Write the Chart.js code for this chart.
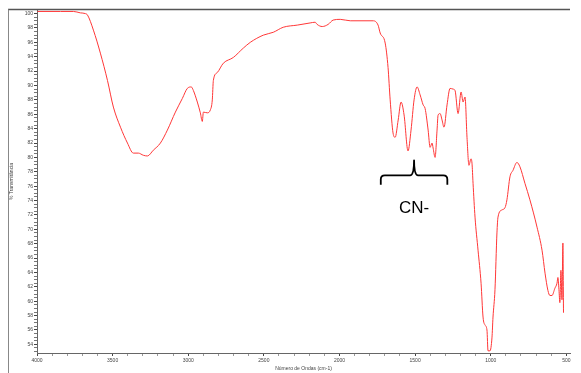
<!DOCTYPE html>
<html>
<head>
<meta charset="utf-8">
<script src="https://cdn.jsdelivr.net/npm/chart.js@4"></script>
<style>
html,body{margin:0;padding:0;background:#fff;}
#wrap{width:581px;height:373px;position:relative;}
</style>
</head>
<body>
<div id="wrap"><canvas id="c" width="581" height="373"></canvas></div>
<script>
// Wavenumber (cm-1) and % transmittance
const wavenumbers = [3997, 3845, 3759, 3713, 3680, 3666, 3627, 3581, 3534, 3495, 3448, 3402, 3363, 3330, 3297, 3270, 3231, 3184, 3138, 3085, 3039, 3006, 2980, 2966, 2940, 2920, 2907, 2900, 2874, 2854, 2841, 2834, 2808, 2768, 2702, 2636, 2590, 2504, 2438, 2372, 2279, 2194, 2161, 2148, 2114, 2075, 2042, 1995, 1929, 1777, 1745, 1731, 1698, 1679, 1665, 1646, 1632, 1612, 1593, 1573, 1547, 1527, 1507, 1487, 1467, 1447, 1434, 1414, 1401, 1388, 1381, 1368, 1355, 1348, 1335, 1322, 1309, 1289, 1269, 1249, 1236, 1216, 1196, 1183, 1170, 1157, 1144, 1131, 1124, 1117, 1104, 1084, 1064, 1051, 1038, 1025, 1018, 1005, 992, 985, 972, 959, 952, 926, 906, 893, 873, 853, 827, 807, 774, 741, 694, 661, 641, 622, 609, 595, 576, 562, 556, 549, 543, 536, 529, 523, 519];
const transmittance = [100.3, 100.3, 100.3, 100.1, 100.0, 99.8, 97.7, 94.5, 90.7, 87.0, 84.2, 82.0, 80.6, 80.6, 80.3, 80.2, 81.0, 82.0, 83.8, 86.3, 88.2, 89.6, 89.8, 89.3, 87.7, 86.2, 85.0, 86.3, 86.2, 86.6, 88.0, 90.7, 91.8, 93.1, 93.9, 95.2, 96.0, 97.0, 97.4, 98.1, 98.4, 98.7, 98.8, 98.5, 98.2, 98.5, 99.1, 99.2, 99.0, 99.0, 98.4, 97.3, 95.9, 92.5, 88.0, 83.4, 82.8, 85.2, 87.7, 85.9, 80.9, 83.8, 88.0, 89.8, 88.7, 87.3, 86.8, 83.8, 81.4, 82.0, 81.3, 80.0, 83.8, 85.9, 86.1, 85.2, 84.2, 87.3, 89.6, 89.5, 89.3, 86.1, 89.1, 87.7, 88.4, 82.8, 78.9, 79.8, 79.2, 76.4, 71.7, 67.1, 62.5, 57.8, 56.7, 56.0, 53.1, 53.1, 54.9, 57.8, 61.6, 69.5, 71.7, 72.7, 73.0, 74.1, 77.3, 78.2, 79.3, 78.7, 76.4, 74.1, 70.3, 67.1, 63.9, 61.5, 60.8, 60.8, 61.8, 62.5, 63.3, 61.6, 59.8, 64.3, 60.2, 68.1, 58.4];

// Tick labels
const xTickLabels = [4000, 3500, 3000, 2500, 2000, 1500, 1000, 500];
const yTickLabels = [54, 56, 58, 60, 62, 64, 66, 68, 70, 72, 74, 76, 78, 80, 82, 84, 86, 88, 90, 92, 94, 96, 98, 100];

// Annotation (brace over the CN- bands)
const braceRange = [1727, 1287];
const braceLevel = [76.2, 77.5, 79.6]; // ends, bar, tip
const braceLabel = 'CN-';
const braceLabelLevel = 72.9;

const xMinor = [];
for (let v = 4000; v >= 500; v -= 100) xMinor.push(v);
const yMinor = [];
for (let v = 53; v <= 100.01; v += 0.5) yMinor.push(Math.round(v * 10) / 10);

const points = wavenumbers.map((w, i) => ({x: w, y: transmittance[i]}));

const framePlugin = {
  id: 'frame',
  afterDraw(chart) {
    const ctx = chart.ctx;
    const a = chart.chartArea;
    ctx.save();
    ctx.strokeStyle = '#555';
    ctx.lineWidth = 1.5;
    ctx.beginPath();
    ctx.moveTo(8, 9.5);
    ctx.lineTo(a.right, 9.5);
    ctx.stroke();
    ctx.strokeStyle = '#888';
    ctx.lineWidth = 1;
    ctx.beginPath();
    ctx.moveTo(8.5, 9.5);
    ctx.lineTo(8.5, 373);
    ctx.stroke();
    ctx.restore();
  }
};

const bracePlugin = {
  id: 'brace',
  afterDatasetsDraw(chart) {
    const xs = chart.scales.x, ys = chart.scales.y;
    const ctx = chart.ctx;
    const x1 = xs.getPixelForValue(braceRange[0]);
    const x2 = xs.getPixelForValue(braceRange[1]);
    const xc = (x1 + x2) / 2;
    const yEnd = ys.getPixelForValue(braceLevel[0]);
    const yBar = ys.getPixelForValue(braceLevel[1]);
    const yTip = ys.getPixelForValue(braceLevel[2]);
    const r = 4;
    ctx.save();
    ctx.strokeStyle = '#000';
    ctx.lineWidth = 1.8;
    ctx.lineJoin = 'round';
    ctx.beginPath();
    ctx.moveTo(x1, yEnd);
    ctx.lineTo(x1, yBar + r);
    ctx.quadraticCurveTo(x1, yBar, x1 + r, yBar);
    ctx.lineTo(xc - r, yBar);
    ctx.quadraticCurveTo(xc, yBar, xc, yTip);
    ctx.quadraticCurveTo(xc, yBar, xc + r, yBar);
    ctx.lineTo(x2 - r, yBar);
    ctx.quadraticCurveTo(x2, yBar, x2, yBar + r);
    ctx.lineTo(x2, yEnd);
    ctx.stroke();
    ctx.fillStyle = '#000';
    ctx.font = '17px "Liberation Sans", Arial, sans-serif';
    ctx.textAlign = 'center';
    ctx.textBaseline = 'middle';
    ctx.fillText(braceLabel, xc, ys.getPixelForValue(braceLabelLevel));
    ctx.restore();
  }
};

new Chart(document.getElementById('c'), {
  type: 'line',
  data: {
    datasets: [{
      data: points,
      borderColor: 'rgb(255,55,55)',
      borderWidth: 1,
      pointRadius: 0,
      cubicInterpolationMode: 'monotone',
      fill: false
    }]
  },
  options: {
    responsive: false,
    animation: false,
    events: [],
    layout: {padding: {left: 0, right: 11, top: 10, bottom: 0}},
    plugins: {legend: {display: false}, tooltip: {enabled: false}},
    scales: {
      x: {
        type: 'linear',
        reverse: true,
        min: 476,
        max: 4000,
        afterBuildTicks(s) { s.ticks = xMinor.map(v => ({value: v})); },
        afterFit(s) { s.height = 20; },
        border: {display: true, color: '#666', width: 1},
        grid: {
          display: true, drawOnChartArea: false, tickLength: 3,
          color: ctx => (ctx.tick && xTickLabels.includes(ctx.tick.value)) ? '#444' : '#999'
        },
        ticks: {
          autoSkip: false, maxRotation: 0, padding: 2,
          font: {size: 5, family: 'Arial, "Liberation Sans", sans-serif'},
          color: '#444',
          callback: v => xTickLabels.includes(v) ? String(v) : ''
        },
        title: {
          display: true, text: 'Número de Ondas (cm-1)',
          font: {size: 5, family: 'Arial, "Liberation Sans", sans-serif'},
          color: '#444', padding: {top: 0, bottom: 1}
        }
      },
      y: {
        type: 'linear',
        min: 52.8,
        max: 100.5,
        afterBuildTicks(s) { s.ticks = yMinor.map(v => ({value: v})); },
        afterFit(s) { s.width = 37; },
        border: {display: true, color: '#666', width: 1},
        grid: {
          display: true, drawOnChartArea: false, tickLength: 3,
          color: ctx => (ctx.tick && yTickLabels.includes(ctx.tick.value)) ? '#444' : '#777'
        },
        ticks: {
          autoSkip: false, padding: 1,
          font: {size: 5, family: 'Arial, "Liberation Sans", sans-serif'},
          color: '#444',
          callback: v => yTickLabels.includes(v) ? String(v) : ''
        },
        title: {
          display: true, text: '% Transmitância',
          font: {size: 5, family: 'Arial, "Liberation Sans", sans-serif'},
          color: '#444', padding: {top: 9, bottom: 0}
        }
      }
    }
  },
  plugins: [framePlugin, bracePlugin]
});
</script>
</body>
</html>
